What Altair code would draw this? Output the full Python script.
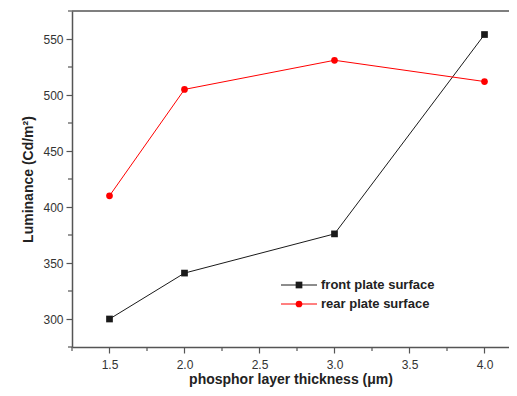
import altair as alt
import pandas as pd

thickness = [1.5, 2.0, 3.0, 4.0]
front = [300, 341, 376, 554]
rear = [410, 505, 531, 512]
series_names = ["front plate surface", "rear plate surface"]
series_colors = ["#1a1a1a", "#ff0000"]
series_shapes = ["square", "circle"]
x_major = [1.5, 2.0, 2.5, 3.0, 3.5, 4.0]
x_minor = [1.25, 1.75, 2.25, 2.75, 3.25, 3.75]
y_major = [300, 350, 400, 450, 500, 550]
y_minor = [275, 325, 375, 425, 475, 525, 575]

rows = []
for x, v in zip(thickness, front):
    rows.append({"t": x, "lum": v, "series": series_names[0]})
for x, v in zip(thickness, rear):
    rows.append({"t": x, "lum": v, "series": series_names[1]})
df = pd.DataFrame(rows)

FONT = "Liberation Sans"
W, H = 437, 336
AX = "#555"

xscale = alt.Scale(domain=[1.25, 1.25 + W / 150], nice=False, zero=False)
yscale = alt.Scale(domain=[275, 575], nice=False, zero=False)

xaxis = alt.Axis(
    title="phosphor layer thickness (\u03bcm)",
    values=x_major, format=".1f", tickSize=6,
    labelPadding=6,
    grid=False, domainColor=AX, tickColor=AX, domainWidth=1.5, tickWidth=1.2,
    labelFont=FONT, labelFontSize=12, labelColor="#333",
    titleFont=FONT, titleFontSize=14, titleFontWeight="bold", titleColor="#222", titlePadding=2,
)
yaxis = alt.Axis(
    title="Luminance (Cd/m\u00b2)",
    values=y_major, format="d", tickSize=6,
    labelPadding=3,
    grid=False, domainColor=AX, tickColor=AX, domainWidth=1.5, tickWidth=1.2,
    labelFont=FONT, labelFontSize=12, labelColor="#333",
    titleFont=FONT, titleFontSize=14, titleFontWeight="bold", titleColor="#222", titlePadding=7,
)

color = alt.Color("series:N", scale=alt.Scale(domain=series_names, range=series_colors), legend=None)
shape = alt.Shape("series:N", scale=alt.Scale(domain=series_names, range=series_shapes), legend=None)

lines = alt.Chart(df).mark_line(strokeWidth=1).encode(
    x=alt.X("t:Q", scale=xscale, axis=xaxis),
    y=alt.Y("lum:Q", scale=yscale, axis=yaxis),
    color=color,
    detail="series:N",
)
points = alt.Chart(df).mark_point(filled=True, opacity=1, size=45).encode(
    x=alt.X("t:Q", scale=xscale),
    y=alt.Y("lum:Q", scale=yscale),
    color=color,
    shape=shape,
)

xminor = alt.Chart(pd.DataFrame({"t": x_minor})).mark_rule(color=AX, strokeWidth=1.2).encode(
    x=alt.X("t:Q", scale=xscale), y=alt.value(H), y2=alt.value(H + 4)
)
yminor = alt.Chart(pd.DataFrame({"lum": y_minor})).mark_rule(color=AX, strokeWidth=1.2).encode(
    y=alt.Y("lum:Q", scale=yscale), x=alt.value(0), x2=alt.value(-4)
)

top_border = alt.Chart(pd.DataFrame({"a": [0]})).mark_rule(color=AX, strokeWidth=1.5).encode(
    x=alt.value(0), x2=alt.value(W), y=alt.value(0)
)

# manual legend
layers = [lines, points, xminor, yminor, top_border]
leg_rows_y = [274, 293]
for name, ly in zip(series_names, leg_rows_y):
    leg = pd.DataFrame({"series": [name]})
    base = alt.Chart(leg)
    layers.append(base.mark_rule(strokeWidth=1).encode(
        x=alt.value(209), x2=alt.value(245), y=alt.value(ly), color=color))
    layers.append(base.mark_point(filled=True, opacity=1, size=45).encode(
        x=alt.value(227), y=alt.value(ly), color=color, shape=shape))
    layers.append(base.mark_text(
        align="left", baseline="middle", font=FONT, fontSize=13, fontWeight="bold", color="#222"
    ).encode(x=alt.value(249), y=alt.value(ly), text="series:N"))

chart = alt.layer(*layers).properties(
    width=W, height=H,
    autosize=alt.AutoSizeParams(type="none"),
    padding={"left": 64, "top": 3, "right": 0, "bottom": 41},
).configure_view(stroke=None)

chart.save("out.html", embed_options={"renderer": "svg", "actions": False})
